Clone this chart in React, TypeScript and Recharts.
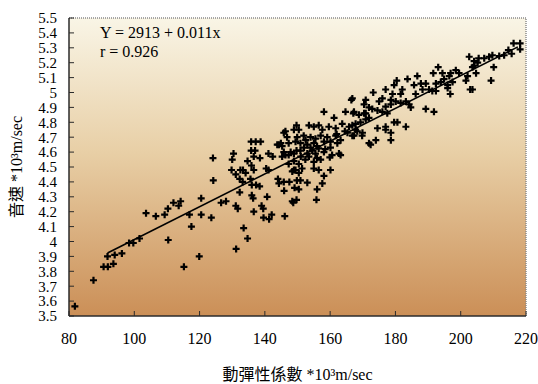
import React from 'react';
import {
  ScatterChart, Scatter, XAxis, YAxis, CartesianGrid, ReferenceLine, ReferenceDot,
} from 'recharts';

// 動彈性係數 (x) and 音速 (y), both in *10^3 m/sec
const dynModulus: number[] = [
  81.8, 87.5, 90.6, 91.9, 91.8, 93.6, 94.0, 96.2, 98.4, 99.7, 101.6, 103.6, 106.6, 109.3, 110.3, 112.0,
  113.6, 114.2, 110.4, 115.2, 116.9, 117.5, 119.9, 120.5, 120.5, 123.6, 124.1, 124.2, 126.6, 128.1, 131.1,
  131.7, 133.5, 134.7, 131.2, 136.6, 136.0, 136.4, 132.3, 139.0, 139.5, 140.7, 139.6, 141.3, 142.1, 146.1,
  145.9, 148.7, 149.7, 144.0, 144.3, 145.8, 147.5, 149.1, 150.4, 129.8, 131.1, 130.0, 130.4, 132.3, 133.2,
  133.3, 134.1, 134.7, 135.9, 136.6, 135.6, 136.0, 137.3, 138.4, 135.8, 137.2, 138.7, 135.8, 137.0, 138.5,
  140.4, 141.1, 141.1, 142.4, 144.9, 145.8, 146.8, 147.3, 144.3, 145.3, 146.3, 147.9, 148.9, 149.7, 148.4,
  149.4, 150.4, 147.3, 148.9, 149.7, 150.4, 149.9, 143.8, 132.5, 136.6,
  166.5, 158.1, 164.7, 167.1, 161.2, 170.4, 170.9, 169.3, 146.3, 148.9, 153.5, 155.0, 156.5, 157.6, 159.6,
  161.7, 163.7, 165.8, 167.8, 169.9, 151.9, 154.0, 157.1, 159.1, 161.7, 165.3, 166.8, 149.4, 150.9, 153.0,
  155.0, 158.1, 160.1, 162.2, 163.2, 171.9, 145.8, 147.3, 145.3, 150.9, 153.0, 154.5, 155.5, 156.5, 158.1,
  160.1, 160.6, 162.7, 156.0, 155.0, 157.1, 152.4, 150.4, 155.0, 156.5, 160.1, 148.9, 151.4, 158.1, 157.6,
  149.8, 150.9, 153.0, 156.0, 148.4, 155.8, 163.2, 159.9, 152.0, 154.0, 156.0, 158.5, 151.0, 153.5, 162.0,
  164.5, 152.5, 155.5,
  193.1, 191.6, 186.7, 183.7, 180.4, 179.6, 187.8, 189.3, 185.7, 190.3, 188.3, 186.2, 182.1, 181.6, 177.0,
  173.2, 179.1, 176.0, 175.0, 178.6, 180.1, 181.6, 183.2, 184.2, 184.7, 178.6, 177.0, 189.3, 191.8, 170.9,
  171.9, 172.9, 174.5, 176.0, 177.5, 166.8, 167.3, 168.8, 170.4, 166.8, 167.8, 170.9, 171.9, 168.3, 169.8,
  167.3, 174.5, 177.0, 177.0, 179.6, 180.6, 183.2, 178.6, 178.6, 174.0, 172.4,
  216.2, 218.2, 218.2, 215.6, 213.3, 214.6, 209.7, 208.7, 207.2, 205.5, 202.6, 204.1, 204.1, 203.6, 205.2,
  210.1, 204.7, 202.1, 201.6, 199.5, 198.5, 196.9, 196.5, 197.5, 196.0, 196.0, 196.8, 194.4, 194.9, 193.9,
  192.4, 191.3, 192.4, 209.3, 202.9, 203.6, 211.8,
];

const soundSpeed: number[] = [
  3.565, 3.74, 3.83, 3.83, 3.90, 3.85, 3.91, 3.92, 3.99, 3.99, 4.02, 4.19, 4.17, 4.18, 4.22, 4.26,
  4.24, 4.27, 4.01, 3.83, 4.18, 4.10, 3.90, 4.29, 4.18, 4.16, 4.56, 4.41, 4.26, 4.27, 4.24,
  4.22, 4.09, 4.02, 3.95, 4.20, 4.31, 4.29, 4.33, 4.24, 4.22, 4.30, 4.16, 4.15, 4.18, 4.17,
  4.34, 4.26, 4.28, 4.42, 4.39, 4.40, 4.40, 4.36, 4.35, 4.48, 4.45, 4.55, 4.59, 4.42, 4.40,
  4.48, 4.46, 4.54, 4.51, 4.48, 4.42, 4.38, 4.38, 4.37, 4.67, 4.67, 4.67, 4.61, 4.61, 4.56,
  4.49, 4.48, 4.59, 4.57, 4.66, 4.73, 4.70, 4.66, 4.65, 4.64, 4.58, 4.60, 4.59, 4.61, 4.47,
  4.48, 4.46, 4.52, 4.54, 4.78, 4.75, 4.70, 4.65, 4.48, 4.57,
  4.95, 4.87, 4.87, 4.86, 4.83, 4.92, 4.86, 4.80, 4.74, 4.75, 4.78, 4.77, 4.78, 4.75, 4.77,
  4.76, 4.79, 4.77, 4.75, 4.73, 4.71, 4.70, 4.71, 4.70, 4.71, 4.73, 4.71, 4.67, 4.66, 4.65,
  4.66, 4.67, 4.67, 4.66, 4.68, 4.66, 4.60, 4.58, 4.57, 4.61, 4.59, 4.61, 4.59, 4.625, 4.60,
  4.63, 4.58, 4.59, 4.56, 4.535, 4.55, 4.55, 4.52, 4.49, 4.48, 4.48, 4.48, 4.49, 4.44, 4.39,
  4.41, 4.41, 4.395, 4.35, 4.27, 4.28, 4.58, 4.565, 4.63, 4.63, 4.64, 4.62, 4.57, 4.57, 4.72,
  4.74, 4.68, 4.69,
  5.17, 5.13, 5.11, 5.09, 5.08, 5.05, 5.06, 5.06, 5.05, 5.02, 5.02, 4.99, 5.02, 4.99, 5.02,
  5.00, 4.99, 4.96, 4.94, 4.95, 4.94, 4.93, 4.94, 4.92, 4.90, 4.92, 4.905, 4.89, 4.87, 4.95,
  4.90, 4.89, 4.88, 4.87, 4.86, 4.96, 4.87, 4.85, 4.86, 4.78, 4.79, 4.82, 4.83, 4.74, 4.71,
  4.71, 4.76, 4.77, 4.75, 4.80, 4.80, 4.77, 4.73, 4.68, 4.68, 4.65,
  5.33, 5.33, 5.29, 5.26, 5.25, 5.285, 5.25, 5.24, 5.23, 5.23, 5.24, 5.21, 5.18, 5.17, 5.20,
  5.17, 5.13, 5.11, 5.08, 5.13, 5.15, 5.13, 5.11, 5.07, 5.05, 5.03, 4.99, 5.13, 5.09, 5.07,
  5.06, 5.01, 5.01, 5.08, 5.02, 5.02, 5.245,
];

// Regression line end points (Y = 2913 + 0.011x, in *10^3)
const regX: number[] = [91.8, 217.5];
const regY: number[] = [3.923, 5.306];

const xTicks: number[] = [80, 100, 120, 140, 160, 180, 200, 220];
const yTicks: number[] = [
  3.5, 3.6, 3.7, 3.8, 3.9, 4.0, 4.1, 4.2, 4.3, 4.4, 4.5, 4.6, 4.7, 4.8, 4.9, 5.0, 5.1, 5.2, 5.3, 5.4, 5.5,
];

const xTitle = '動彈性係數 *10³m/sec';
const yTitle = '音速 *10³m/sec';
const eqText = 'Y = 2913 + 0.011x';
const rText = 'r = 0.926';

const points = dynModulus.map((x, i) => ({ x, y: soundSpeed[i] }));
const regData = regX.map((x, i) => ({ x, y: regY[i] }));

const FONT = '"Liberation Serif", "Times New Roman", "Noto Sans CJK TC", serif';

const Cross = (props: any) => {
  const { cx, cy } = props;
  if (cx == null || cy == null) return null;
  const a = 3.5;
  return (
    <path
      d={`M${cx - a},${cy}H${cx + a}M${cx},${cy - a}V${cy + a}`}
      stroke="#000"
      strokeWidth={2.2}
      fill="none"
    />
  );
};

const NoDot = () => null;

export default function App() {
  return (
    <div style={{ position: 'absolute', left: 0, top: 0, width: 538, height: 384 }}>
      <svg width={0} height={0} style={{ position: 'absolute' }}>
        <defs>
          <linearGradient id="bgGrad" x1="0" y1="0" x2="0" y2="1">
            <stop offset="0%" stopColor="#f9f5e6" />
            <stop offset="45%" stopColor="#e8cfa6" />
            <stop offset="100%" stopColor="#cb8f57" />
          </linearGradient>
        </defs>
      </svg>
      <ScatterChart
        width={538}
        height={384}
        margin={{ top: 18, right: 12, bottom: 0, left: 0 }}
        style={{ fontFamily: FONT }}
      >
        <CartesianGrid horizontal={false} vertical={false} fill="url(#bgGrad)" stroke="none" />
        <XAxis
          type="number"
          dataKey="x"
          domain={[80, 220]}
          ticks={xTicks}
          interval={0}
          height={68}
          tickSize={-5}
          tickMargin={22}
          axisLine={{ stroke: '#2b2b2b', strokeWidth: 1.5 }}
          tickLine={{ stroke: '#2b2b2b', strokeWidth: 1 }}
          tick={{ fill: '#000', fontSize: 16, fontFamily: FONT }}
          allowDataOverflow
          label={(p: any) => {
            const vb = p.viewBox || {};
            return (
              <text
                x={vb.x + vb.width / 2}
                y={380}
                textAnchor="middle"
                fontSize={16}
                fontFamily={FONT}
                fill="#000"
              >
                {xTitle}
              </text>
            );
          }}
        />
        <YAxis
          type="number"
          dataKey="y"
          domain={[3.5, 5.5]}
          ticks={yTicks}
          interval={0}
          width={69}
          tickSize={-5}
          tickMargin={17}
          axisLine={{ stroke: '#2b2b2b', strokeWidth: 1.5 }}
          tickLine={{ stroke: '#2b2b2b', strokeWidth: 1 }}
          tick={{ fill: '#000', fontSize: 15, fontFamily: FONT }}
          tickFormatter={(v: number) => String(Number(v.toFixed(1)))}
          allowDataOverflow
          label={(p: any) => {
            const vb = p.viewBox || {};
            const cy = vb.y + vb.height / 2;
            return (
              <text
                x={22}
                y={cy}
                transform={`rotate(-90 22 ${cy})`}
                textAnchor="middle"
                fontSize={16}
                fontFamily={FONT}
                fill="#000"
              >
                {yTitle}
              </text>
            );
          }}
        />
        <ReferenceLine y={5.5} stroke="#8a8a8a" strokeWidth={1.5} strokeDasharray="1 1" />
        <ReferenceLine x={220} stroke="#8a8a8a" strokeWidth={1.5} strokeDasharray="1 1" />
        <Scatter
          data={regData}
          line={{ stroke: '#000', strokeWidth: 1.6 }}
          shape={NoDot}
          isAnimationActive={false}
        />
        <Scatter data={points} shape={Cross} isAnimationActive={false} />
        <ReferenceDot
          x={89.5}
          y={5.4}
          r={0}
          fill="none"
          stroke="none"
          label={(p: any) => {
            const vb = p.viewBox || {};
            return (
              <g>
                <text x={vb.x} y={vb.y + 5} fontSize={16} fontFamily={FONT} fill="#000">
                  {eqText}
                </text>
                <text x={vb.x} y={vb.y + 24} fontSize={16} fontFamily={FONT} fill="#000">
                  {rText}
                </text>
              </g>
            );
          }}
        />
      </ScatterChart>
    </div>
  );
}
